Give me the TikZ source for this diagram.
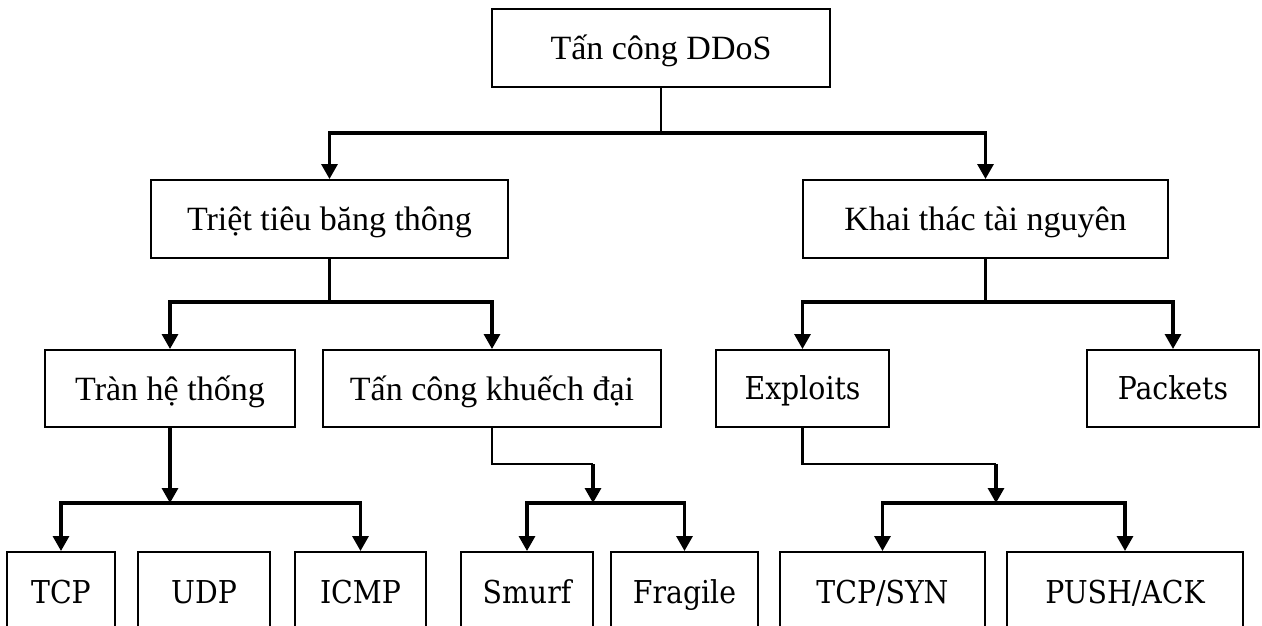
\documentclass[tikz,border=0pt]{standalone}
\usepackage{fontspec}
\setmainfont{Liberation Serif}
\newfontfamily\leaffont{DejaVu Serif Condensed}
\usetikzlibrary{arrows.meta}
\begin{document}
\begin{tikzpicture}[x=1pt,y=-1pt,
  box/.style={draw, line width=2pt, inner sep=0pt, text depth=0pt},
  viet/.style={box, text height=23pt, font=\fontsize{34}{38}\selectfont},
  leaf/.style={box, text height=22pt, font=\leaffont\fontsize{31.5}{35}\selectfont},
  stem/.style={line width=2.2pt},
  bus/.style={line width=3.2pt, line join=miter},
  tip/.style={-{Triangle[width=16pt,length=15pt]}}]
\useasboundingbox (0,0) rectangle (1262,626);
\clip (0,0) rectangle (1262,626);

% root and first split
\node[viet, minimum width=338pt, minimum height=78pt] (root) at (661,48) {Tấn công DDoS};
\node[viet, minimum width=357pt, minimum height=78pt] (bw) at (329.5,219) {Triệt tiêu băng thông};
\node[viet, minimum width=365pt, minimum height=78pt] (res) at (985.5,219) {Khai thác tài nguyên};

% second level
\node[viet, minimum width=250pt, minimum height=77pt] (flood) at (170,388.5) {Tràn hệ thống};
\node[viet, minimum width=338pt, minimum height=77pt] (amp) at (492,388.5) {Tấn công khuếch đại};
\node[leaf, minimum width=173pt, minimum height=77pt] (expl) at (802.5,388.5) {Exploits};
\node[leaf, minimum width=172pt, minimum height=77pt] (pkt) at (1173,388.5) {Packets};

% leaves (their lower edges run off the page)
\node[leaf, minimum width=108pt, minimum height=80pt] (tcp) at (61,592) {TCP};
\node[leaf, minimum width=132pt, minimum height=80pt] (udp) at (204,592) {UDP};
\node[leaf, minimum width=131pt, minimum height=80pt] (icmp) at (360.5,592) {ICMP};
\node[leaf, minimum width=132pt, minimum height=80pt] (smurf) at (527,592) {Smurf};
\node[leaf, minimum width=147pt, minimum height=80pt] (frag) at (684.5,592) {Fragile};
\node[leaf, minimum width=205pt, minimum height=80pt] (syn) at (882.5,592) {TCP/SYN};
\node[leaf, minimum width=236pt, minimum height=80pt] (push) at (1125,592) {PUSH/ACK};

% junction points
\coordinate (j0) at (661,133);
\coordinate (j1) at (329.5,302);
\coordinate (j2) at (985.5,302);
\coordinate (j3) at (170,503);
\coordinate (k4) at (593,464);
\coordinate (j4) at (593,503);
\coordinate (k5) at (996,464);
\coordinate (j5) at (996,503);

% DDoS -> two families
\draw[stem] (root.south) -- (j0);
\draw[bus, tip] (j0) -| (bw.north);
\draw[bus, tip] (j0) -| (res.north);

% bandwidth depletion
\draw[stem] (bw.south) -- (j1);
\draw[bus, tip] (j1) -| (flood.north);
\draw[bus, tip] (j1) -| (amp.north);

% resource depletion
\draw[stem] (res.south) -- (j2);
\draw[bus, tip] (j2) -| (expl.north);
\draw[bus, tip] (j2) -| (pkt.north);

% flood attacks
\draw[bus, tip] (flood.south) -- (j3);
\draw[bus, tip] (j3) -| (tcp.north);
\draw[bus, tip] (j3) -| (icmp.north);

% amplification attacks
\draw[stem] (amp.south) |- (k4);
\draw[bus, tip] (k4) -- (j4);
\draw[bus, tip] (j4) -| (smurf.north);
\draw[bus, tip] (j4) -| (frag.north);

% exploit attacks
\draw[stem] (expl.south) |- (k5);
\draw[bus, tip] (k5) -- (j5);
\draw[bus, tip] (j5) -| (syn.north);
\draw[bus, tip] (j5) -| (push.north);
\end{tikzpicture}
\end{document}
